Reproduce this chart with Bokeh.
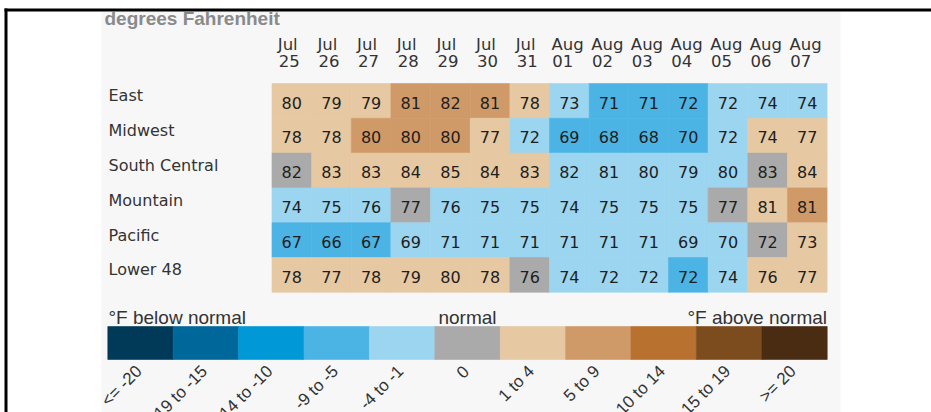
import math
from bokeh.plotting import figure
from bokeh.models import Range1d
from bokeh.core.properties import value
from bokeh.embed import file_html
from bokeh.resources import INLINE

# ---------------- data ----------------
regions = ["East", "Midwest", "South Central", "Mountain", "Pacific", "Lower 48"]
months = ["Jul", "Jul", "Jul", "Jul", "Jul", "Jul", "Jul",
          "Aug", "Aug", "Aug", "Aug", "Aug", "Aug", "Aug"]
days = ["25", "26", "27", "28", "29", "30", "31",
        "01", "02", "03", "04", "05", "06", "07"]

temps_east = [80, 79, 79, 81, 82, 81, 78, 73, 71, 71, 72, 72, 74, 74]
temps_midwest = [78, 78, 80, 80, 80, 77, 72, 69, 68, 68, 70, 72, 74, 77]
temps_south_central = [82, 83, 83, 84, 85, 84, 83, 82, 81, 80, 79, 80, 83, 84]
temps_mountain = [74, 75, 76, 77, 76, 75, 75, 74, 75, 75, 75, 77, 81, 81]
temps_pacific = [67, 66, 67, 69, 71, 71, 71, 71, 71, 71, 69, 70, 72, 73]
temps_lower48 = [78, 77, 78, 79, 80, 78, 76, 74, 72, 72, 72, 74, 76, 77]

# departure-from-normal class (index into legend_labels)
class_east = [6, 6, 6, 7, 7, 7, 6, 4, 3, 3, 3, 4, 4, 4]
class_midwest = [6, 6, 7, 7, 7, 6, 4, 3, 3, 3, 3, 4, 6, 6]
class_south_central = [5, 6, 6, 6, 6, 6, 6, 4, 4, 4, 4, 4, 5, 6]
class_mountain = [4, 4, 4, 5, 4, 4, 4, 4, 4, 4, 4, 5, 6, 7]
class_pacific = [3, 3, 3, 4, 4, 4, 4, 4, 4, 4, 4, 4, 5, 6]
class_lower48 = [6, 6, 6, 6, 6, 6, 5, 4, 4, 4, 3, 4, 6, 6]

legend_labels = ["<= -20", "-19 to -15", "-14 to -10", "-9 to -5", "-4 to -1", "0",
                 "1 to 4", "5 to 9", "10 to 14", "15 to 19", ">= 20"]
legend_colors = ["#003a58", "#00679a", "#0098d7", "#4cb3e5", "#9cd5f0", "#aaaaaa",
                 "#e6c8a2", "#d09a68", "#b9712f", "#7c4c1e", "#4a2c12"]

title_text = "degrees Fahrenheit"
below_text = "\u00b0F below normal"
normal_text = "normal"
above_text = "\u00b0F above normal"

temps = [temps_east, temps_midwest, temps_south_central, temps_mountain, temps_pacific, temps_lower48]
classes = [class_east, class_midwest, class_south_central, class_mountain, class_pacific, class_lower48]

# ---------------- layout (page pixels) ----------------
PX0, PY0, W, H = 0, 0, 931, 412
COL0, COLW = 291.3, 39.65
ROW0, ROWH = 100.4, 34.8
SW0, SWW = 107.3, 65.4
SWC = SW0 + SWW / 2
TS = -5  # text baseline correction (px)

p = figure(width=W, height=H, output_backend="svg", toolbar_location=None,
           x_axis_type=None, y_axis_type=None,
           x_range=Range1d((PX0 - COL0) / COLW, (PX0 + W - COL0) / COLW),
           y_range=Range1d((PY0 + H - ROW0) / ROWH, (PY0 - ROW0) / ROWH),
           min_border=0, outline_line_color=None,
           background_fill_color="white", border_fill_color="white")
p.extra_x_ranges = {"px": Range1d(PX0, PX0 + W),
                    "lg": Range1d((PX0 - SWC) / SWW, (PX0 + W - SWC) / SWW)}
p.extra_y_ranges = {"px": Range1d(PY0 + H, PY0)}

FONT = value("DejaVu Sans")
AFONT = value("Liberation Sans")

# panel background
p.quad(left=[101], right=[840], top=[11], bottom=[412], fill_color="#f7f7f7",
       line_color=None, x_range_name="px", y_range_name="px")

# title
p.text(x=[104], y=[23 + TS], text=[title_text], text_font=AFONT, text_font_style="bold",
       text_font_size="19px", text_color="#8a8a8a", text_baseline="alphabetic",
       text_align="left", x_range_name="px", y_range_name="px")

# heatmap cells
xs, ys, cols, labels = [], [], [], []
for j, (trow, crow) in enumerate(zip(temps, classes)):
    for i, (t, c) in enumerate(zip(trow, crow)):
        xs.append(i)
        ys.append(j)
        cols.append(legend_colors[c])
        labels.append(str(t))
p.rect(x=xs, y=ys, width=1, height=1, fill_color=cols, line_color=cols, line_width=0.6)
p.text(x=xs, y=ys, text=labels, text_font=FONT, text_font_size="16px",
       text_color="#1e1e1e", text_align="center", text_baseline="alphabetic",
       y_offset=6.6 + TS)

# row labels
p.text(x=[108] * len(regions), y=list(range(len(regions))), text=regions,
       text_font=FONT, text_font_size="16px", text_color="#333333",
       text_align="left", text_baseline="alphabetic", x_range_name="px",
       y_offset=TS)

# column headers
month_off = {"Jul": -14.0, "Aug": -17.8}
day_off = {"Jul": -13.0, "Aug": -17.0}
p.text(x=list(range(len(months))), y=[49 + TS] * len(months), text=months,
       x_offset=[month_off[m] for m in months],
       text_font=FONT, text_font_size="16.5px", text_color="#333333",
       text_align="left", text_baseline="alphabetic", y_range_name="px")
p.text(x=list(range(len(days))), y=[65 + TS] * len(days), text=days,
       x_offset=[day_off[m] for m in months],
       text_font=FONT, text_font_size="16.5px", text_color="#333333",
       text_align="left", text_baseline="alphabetic", y_range_name="px")

# legend
p.text(x=[108], y=[322 + TS], text=[below_text], text_font=AFONT, text_font_size="19px",
       text_color="#333333", text_align="left", text_baseline="alphabetic",
       x_range_name="px", y_range_name="px")
p.text(x=[5], y=[322 + TS], text=[normal_text], text_font=AFONT, text_font_size="19px",
       text_color="#333333", text_align="center", text_baseline="alphabetic",
       x_range_name="lg", y_range_name="px")
p.text(x=[826.5], y=[322 + TS], text=[above_text], text_font=AFONT, text_font_size="19px",
       text_color="#333333", text_align="right", text_baseline="alphabetic",
       x_range_name="px", y_range_name="px")

k = list(range(len(legend_labels)))
p.rect(x=k, y=[342.5] * len(k), width=1, height=33, fill_color=legend_colors,
       line_color=legend_colors, line_width=0.6, x_range_name="lg", y_range_name="px")
p.text(x=k, y=[368] * len(k), text=legend_labels, angle=math.pi / 4,
       x_offset=-1.5, text_font=AFONT, text_font_size="17px", text_color="#333333",
       text_align="right", text_baseline="middle",
       x_range_name="lg", y_range_name="px")

# frame lines
p.quad(left=[4, 4], right=[931, 7], top=[8, 8], bottom=[11, 412], fill_color="black",
       line_color=None, x_range_name="px", y_range_name="px")

open("out.html", "w").write(file_html(p, INLINE))
